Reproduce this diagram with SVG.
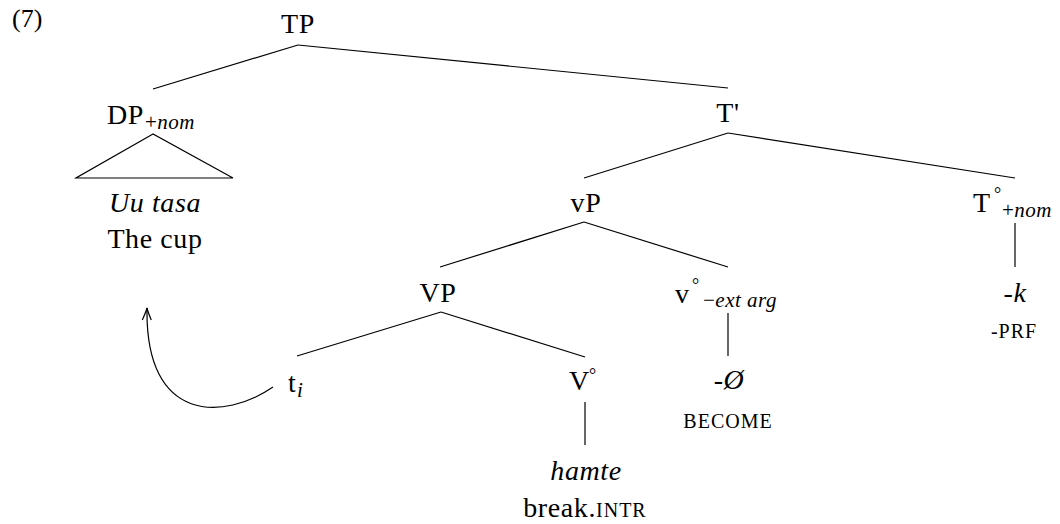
<svg xmlns="http://www.w3.org/2000/svg" width="1060" height="524" viewBox="0 0 1060 524">
<style>
  .t { font-family: "Liberation Serif", "Times New Roman", "DejaVu Serif", serif; fill: #000; }
  .lbl { font-size: 28px; letter-spacing: 0.6px; }
  .it { font-style: italic; }
  .sub { font-size: 21px; letter-spacing: 0.5px; }
  .deg { font-size: 18px; }
  .sc { font-size: 20px; letter-spacing: 1px; }
  .edge { stroke: #000; stroke-width: 1.2; fill: none; }
</style>
<defs>
  <marker id="arr" markerUnits="userSpaceOnUse" markerWidth="20" markerHeight="20" refX="0" refY="0" orient="auto" overflow="visible">
    <path d="M -12,-4.5 Q -4,-1 0,0 Q -4,1 -12,4.5" stroke="#000" stroke-width="1.2" fill="none"/>
  </marker>
</defs>
<rect width="1060" height="524" fill="#fff"/>

<text class="t" x="12" y="27" font-size="26">(7)</text>

<g id="connectors">
  <path class="edge" d="M298,45 L153,89"/>
  <path class="edge" d="M298,45 L728,88"/>
  <path class="edge" d="M728,133 L584,178"/>
  <path class="edge" d="M728,133 L1015,178"/>
  <path class="edge" d="M584,222 L440,267"/>
  <path class="edge" d="M584,222 L728,267"/>
  <path class="edge" d="M441,312 L297,356"/>
  <path class="edge" d="M441,312 L585,357"/>
  <path class="edge" d="M728,313 L728,356"/>
  <path class="edge" d="M1015,223 L1015,267"/>
  <path class="edge" d="M585,402 L585,445"/>
  <path class="edge" d="M153,134 L76,178 L233,178 Z"/>
  <path class="edge" d="M273,387 C225,420 145,425 147,308" marker-end="url(#arr)"/>
</g>

<g id="TP">
  <text class="t lbl" x="298" y="33" text-anchor="middle">TP</text>
</g>

<g id="DP">
  <text class="t lbl" x="107" y="124">DP</text>
  <text class="t sub" x="145" y="129">+<tspan class="it">nom</tspan></text>
</g>

<g id="DP-words">
  <text class="t lbl it" x="155" y="212" text-anchor="middle">Uu tasa</text>
  <text class="t lbl" x="155" y="248" text-anchor="middle">The cup</text>
</g>

<g id="Tbar">
  <text class="t lbl" x="728" y="122" text-anchor="middle">T'</text>
</g>

<g id="vP">
  <text class="t lbl" x="586" y="212" text-anchor="middle">vP</text>
</g>

<g id="Thead">
  <text class="t lbl" x="973" y="212">T</text>
  <text class="t deg" x="994" y="200">°</text>
  <text class="t sub" x="1002" y="217">+<tspan class="it">nom</tspan></text>
</g>

<g id="k">
  <text class="t lbl it" x="1015" y="302" text-anchor="middle">-k</text>
  <text class="t sc" x="1014" y="338" text-anchor="middle">-PRF</text>
</g>

<g id="VP">
  <text class="t lbl" x="438" y="302" text-anchor="middle">VP</text>
</g>

<g id="vhead">
  <text class="t lbl" x="675" y="303">v</text>
  <text class="t deg" x="692" y="291">°</text>
  <text class="t sub" x="703" y="307">−<tspan class="it">ext arg</tspan></text>
</g>

<g id="null">
  <text class="t lbl it" x="729" y="389" text-anchor="middle">-Ø</text>
  <text class="t sc" x="728" y="428" text-anchor="middle">BECOME</text>
</g>

<g id="trace">
  <text class="t lbl" x="288" y="392">t</text>
  <text class="t sub it" x="297" y="397">i</text>
</g>

<g id="Vhead">
  <text class="t lbl" x="569" y="390">V</text>
  <text class="t deg" x="589" y="381">°</text>
</g>

<g id="hamte">
  <text class="t lbl it" x="586" y="480" text-anchor="middle">hamte</text>
  <text class="t lbl" x="585" y="517" text-anchor="middle">break.<tspan class="sc">INTR</tspan></text>
</g>
</svg>
